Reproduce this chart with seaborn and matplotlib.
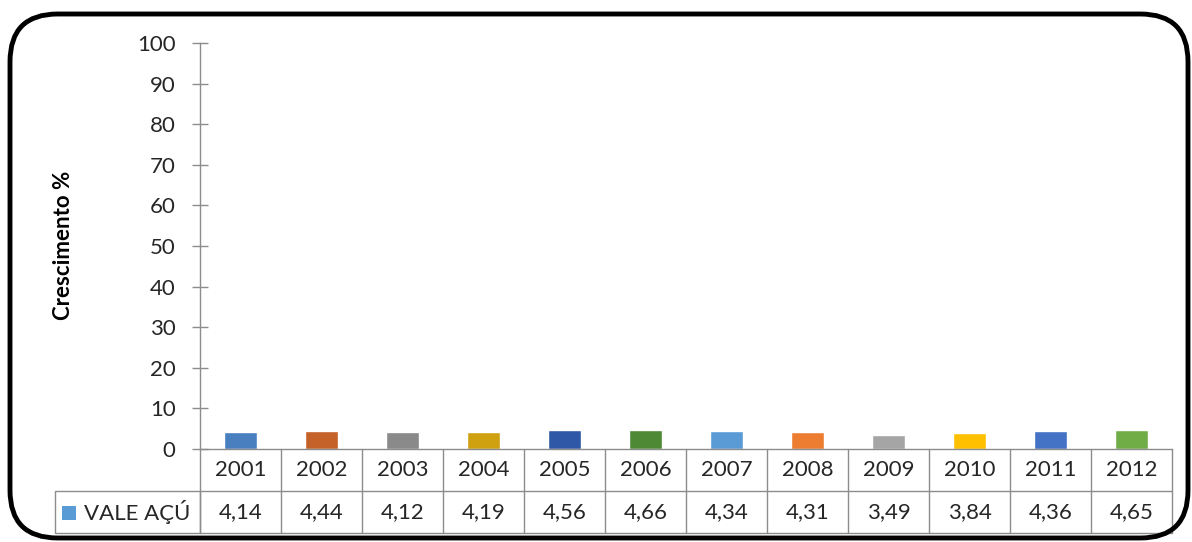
import matplotlib
matplotlib.use("Agg")
import matplotlib.pyplot as plt
from matplotlib.patches import FancyBboxPatch, Rectangle
from matplotlib.transforms import blended_transform_factory
import seaborn as sns
import pandas as pd

# Data
years = ["2001", "2002", "2003", "2004", "2005", "2006",
         "2007", "2008", "2009", "2010", "2011", "2012"]
growth = [4.14, 4.44, 4.12, 4.19, 4.56, 4.66, 4.34, 4.31, 3.49, 3.84, 4.36, 4.65]
value_labels = ["4,14", "4,44", "4,12", "4,19", "4,56", "4,66",
                "4,34", "4,31", "3,49", "3,84", "4,36", "4,65"]
series_name = "VALE AÇÚ"
y_ticks = list(range(0, 101, 10))
bar_colors = ["#4A7FBF", "#C4622A", "#8A8A8A", "#CFA010", "#2F58A6", "#4E8A35",
              "#5B9BD5", "#ED7D31", "#A5A5A5", "#FFC000", "#4472C4", "#70AD47"]
key_color = "#5B9BD5"

sns.set_theme(style="white")
plt.rcParams["font.family"] = ["Lato", "DejaVu Sans"]

W, H = 1192, 542
fig = plt.figure(figsize=(W / 100, H / 100), dpi=100)
fig.patch.set_facecolor("white")

fx = lambda px: px / W
fy = lambda py: 1 - py / H

ax_left, ax_right, ax_top, ax_bottom = 200, 1172, 43, 449
ax = fig.add_axes([fx(ax_left), fy(ax_bottom),
                   (ax_right - ax_left) / W, (ax_bottom - ax_top) / H])

df = pd.DataFrame({"year": years, "growth": growth})
sns.barplot(data=df, x="year", y="growth", hue="year", palette=bar_colors,
            legend=False, width=0.4, saturation=1, ax=ax)

ax.set_xlim(-0.5, len(years) - 0.5)
ax.set_ylim(0, 100)
ax.set_yticks(y_ticks)
ax.set_xticks([])
ax.set_xlabel("")
ax.set_ylabel("")
fig.text(fx(63), fy(245), "Crescimento %", rotation=90, ha="center", va="center",
         fontsize=16, fontweight="bold", color="black")

grey = "#8C8C8C"
text_col = "#262626"
fs = 16
for side in ["top", "right"]:
    ax.spines[side].set_visible(False)
for side in ["left", "bottom"]:
    ax.spines[side].set_color(grey)
    ax.spines[side].set_linewidth(1.0)
ax.tick_params(axis="y", direction="inout", length=11, width=1, color=grey,
               labelsize=fs, labelcolor=text_col, pad=12, left=True)

# Data table under the plot, columns aligned with the categories
ax_h = ax_bottom - ax_top
row1 = -42 / ax_h
row2 = -84 / ax_h
trans = blended_transform_factory(ax.transData, ax.transAxes)
line_kw = dict(color=grey, lw=1.0, clip_on=False)
n = len(years)
for i in range(n + 1):
    ax.plot([i - 0.5, i - 0.5], [0, row2], transform=trans, **line_kw)
ax.plot([-0.5, n - 0.5], [row1, row1], transform=trans, **line_kw)
ax.plot([-0.5, n - 0.5], [row2, row2], transform=trans, **line_kw)
for i, (yr, lab) in enumerate(zip(years, value_labels)):
    ax.text(i, row1 / 2, yr, transform=trans, ha="center", va="center",
            fontsize=fs, color=text_col, clip_on=False)
    ax.text(i, (row1 + row2) / 2, lab, transform=trans, ha="center", va="center",
            fontsize=fs, color=text_col, clip_on=False)

# Series label cell with its colour key
lab_left = 55
fig.add_artist(Rectangle((fx(lab_left), fy(533)), fx(ax_left - lab_left), (533 - 491) / H,
                         fill=False, edgecolor=grey, lw=1.0, transform=fig.transFigure))
fig.add_artist(Rectangle((fx(62), fy(520)), 14 / W, 14 / H, facecolor=key_color,
                         edgecolor="none", transform=fig.transFigure))
fig.text(fx(84), fy(512), series_name, ha="left", va="center", fontsize=fs, color=text_col)

# Rounded outer frame
frame = FancyBboxPatch((fx(10), fy(538)), fx(1178), (538 - 14) / H,
                       boxstyle="round,pad=0,rounding_size=0.04",
                       transform=fig.transFigure, fill=False,
                       edgecolor="black", lw=3.5, mutation_aspect=W / H)
fig.add_artist(frame)

fig.savefig("out.png", dpi=100, facecolor="white")
